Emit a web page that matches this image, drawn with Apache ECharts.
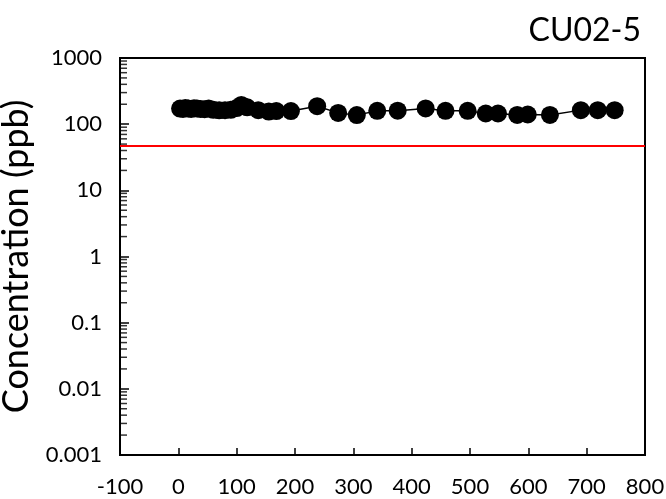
<!DOCTYPE html>
<html>
<head>
<meta charset="utf-8">
<script src="https://cdn.jsdelivr.net/npm/echarts@6/dist/echarts.min.js"></script>
<style>html,body{margin:0;padding:0;background:#fff}#c{width:666px;height:499px}</style>
</head>
<body>
<div id="c"></div>
<script>
const chartTitle = 'CU02-5';
const yAxisTitle = 'Concentration (ppb)';
const days = [3, 8, 12, 17, 22, 27, 32, 38, 45, 52, 60, 70, 80, 90, 100, 108, 118, 137, 155, 168, 193, 238, 274, 306, 341, 376, 424, 458, 496, 527, 548, 581, 599, 637, 690, 719, 748];
const conc = [172, 170, 175, 172, 170, 174, 172, 170, 168, 172, 165, 162, 163, 165, 175, 195, 180, 163, 155, 158, 158, 187, 148, 137, 159, 160, 173, 159, 159, 145, 145, 138, 140, 138, 163, 163, 163];
const limitValue = 48;
const xTicks = [-100, 0, 100, 200, 300, 400, 500, 600, 700, 800];
const yTicks = [0.001, 0.01, 0.1, 1, 10, 100, 1000];
const minorSteps = [2, 3, 4, 5, 6, 7, 8, 9];

const minorTicks = [];
yTicks.slice(0, -1).forEach(d => minorSteps.forEach(m => minorTicks.push([xTicks[0], Number((d * m).toPrecision(3))])));

const font = 'Lato, "Open Sans", sans-serif';
const chart = echarts.init(document.getElementById('c'));
chart.setOption({
  animation: false,
  title: {
    text: chartTitle, right: 20, top: 10,
    textStyle: {fontFamily: font, fontSize: 32, fontWeight: 'normal', color: '#000'}
  },
  grid: {left: 120, right: 21, top: 58, bottom: 44, outerBoundsMode: 'none', containLabel: false,
    show: true, borderColor: '#000', borderWidth: 2, backgroundColor: 'transparent'},
  xAxis: {
    type: 'value', min: xTicks[0], max: xTicks[xTicks.length - 1], interval: 100,
    axisLine: {onZero: false, lineStyle: {color: '#000', width: 2}},
    axisTick: {inside: true, length: 7, lineStyle: {color: '#000', width: 1.5}},
    axisLabel: {fontFamily: font, fontSize: 22, color: '#000', margin: 21},
    splitLine: {show: false}
  },
  yAxis: {
    type: 'log', logBase: 10, min: yTicks[0], max: yTicks[yTicks.length - 1],
    name: yAxisTitle, nameLocation: 'middle', nameGap: 76,
    nameTextStyle: {fontFamily: font, fontSize: 36, color: '#000'},
    axisLine: {onZero: false, lineStyle: {color: '#000', width: 2}},
    axisTick: {inside: true, length: 9, lineStyle: {color: '#000', width: 1.5}},
    axisLabel: {fontFamily: font, fontSize: 22, color: '#000', margin: 18,
      formatter: v => { const t = yTicks.find(k => Math.abs(Math.log10(k) - Math.log10(v)) < 1e-6); return t === undefined ? '' : String(t); }},
    splitLine: {show: false}
  },
  series: [
    {
      type: 'scatter', silent: true, z: 10, clip: false,
      data: minorTicks,
      symbol: 'rect', symbolSize: [7, 1.5], symbolOffset: [3.5, 0],
      itemStyle: {color: '#000'}
    },
    {
      type: 'line', z: 3,
      data: days.map((d, i) => [d, conc[i]]),
      symbol: 'circle', symbolSize: 18,
      itemStyle: {color: '#000'},
      lineStyle: {color: '#000', width: 1.5},
      markLine: {
        silent: true, symbol: 'none', label: {show: false},
        lineStyle: {color: '#ff0000', width: 2, type: 'solid'},
        data: [{yAxis: limitValue}]
      }
    }
  ]
});
</script>
</body>
</html>
